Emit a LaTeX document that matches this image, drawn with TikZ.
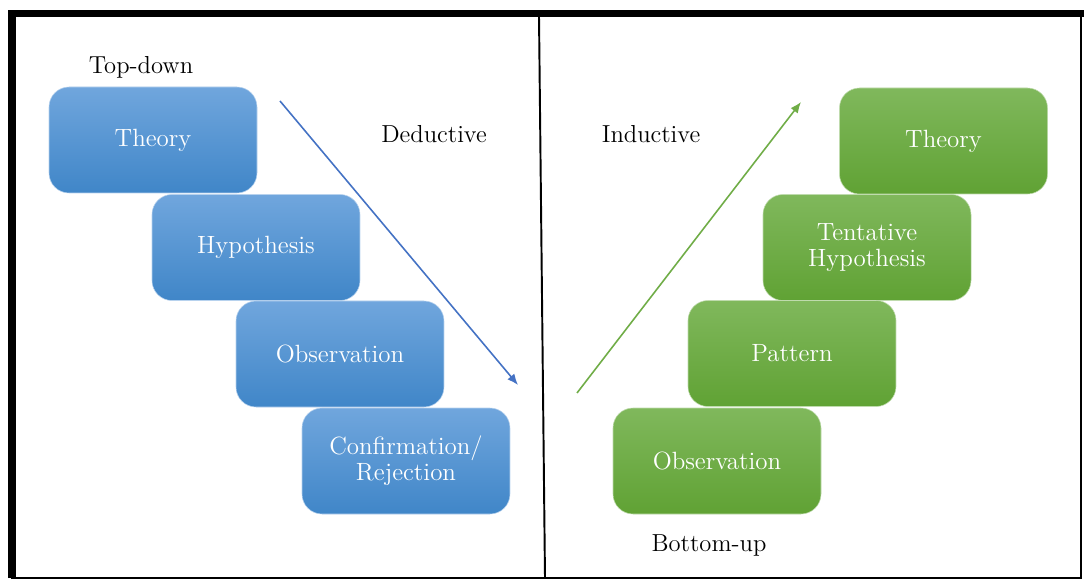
\documentclass[tikz,border=0pt]{standalone}
\usetikzlibrary{arrows.meta}

\definecolor{blueTop}{RGB}{112,166,221}
\definecolor{blueBottom}{RGB}{64,134,200}
\definecolor{blueArrow}{RGB}{68,114,196}
\definecolor{greenTop}{RGB}{128,184,92}
\definecolor{greenBottom}{RGB}{96,162,52}
\definecolor{greenArrow}{RGB}{112,173,71}

\begin{document}
\begin{tikzpicture}[
    stage/.style={rounded corners=0.4cm, minimum width=4.16cm, minimum height=2.12cm, align=center, text=white, line width=0.3pt, font=\fontsize{14.2}{15}\selectfont},
    deductive box/.style={stage, top color=blueTop, bottom color=blueBottom, draw=blueTop!50!white},
    inductive box/.style={stage, top color=greenTop, bottom color=greenBottom, draw=greenTop!50!white},
    caption/.style={font=\fontsize{14}{16}\selectfont, text=black}
]
                \coordinate (LB) at (0,0);
                \coordinate (RT) at (21.68,11.6);
                \coordinate (Split top) at (10.78,11.27);
                \coordinate (Split bottom) at (10.9,0.04);
                \coordinate (Down start) at (5.6,9.58);
                \coordinate (Down end) at (10.36,3.9);
                \coordinate (Up start) at (11.54,3.74);
                \coordinate (Up end) at (16.02,9.56);

                \useasboundingbox (LB) rectangle (RT);
                \fill[white] (LB) rectangle (RT); % background
                \draw[black, line width=1.1pt] (0.24,0.04) rectangle (21.62,11.33); % frame
                \draw[black, line width=4pt] (0.24,0.04) -- (0.24,11.33) -- (21.68,11.33);
                \draw[black, line width=1.1pt] (Split top) -- (Split bottom);

                % top-down side
                \node[caption] (top down) at (2.82,10.26) {Top-down};
                \node[caption] (deductive) at (8.68,8.92) {Deductive};
                \node[deductive box] (theory A) at (3.06,8.8) {Theory};
                \node[deductive box] (hypothesis A) at (5.12,6.65) {Hypothesis};
                \node[deductive box] (observation A) at (6.8,4.52) {Observation};
                \node[deductive box] (confirmation) at (8.12,2.38) {Confirmation/\\Rejection};
                \draw[blueArrow, line width=0.9pt, -{Latex[length=2.2mm, width=1.8mm]}] (Down start) -- (Down end);

                % bottom-up side
                \node[caption] (inductive) at (13.02,8.92) {Inductive};
                \node[caption] (bottom up) at (14.18,0.7) {Bottom-up};
                \node[inductive box] (theory B) at (18.87,8.78) {Theory};
                \node[inductive box] (hypothesis B) at (17.34,6.65) {Tentative\\Hypothesis};
                \node[inductive box] (pattern) at (15.84,4.53) {Pattern};
                \node[inductive box] (observation B) at (14.34,2.38) {Observation};
                \draw[greenArrow, line width=0.9pt, -{Latex[length=2.2mm, width=1.8mm]}] (Up start) -- (Up end);
\end{tikzpicture}
\end{document}
